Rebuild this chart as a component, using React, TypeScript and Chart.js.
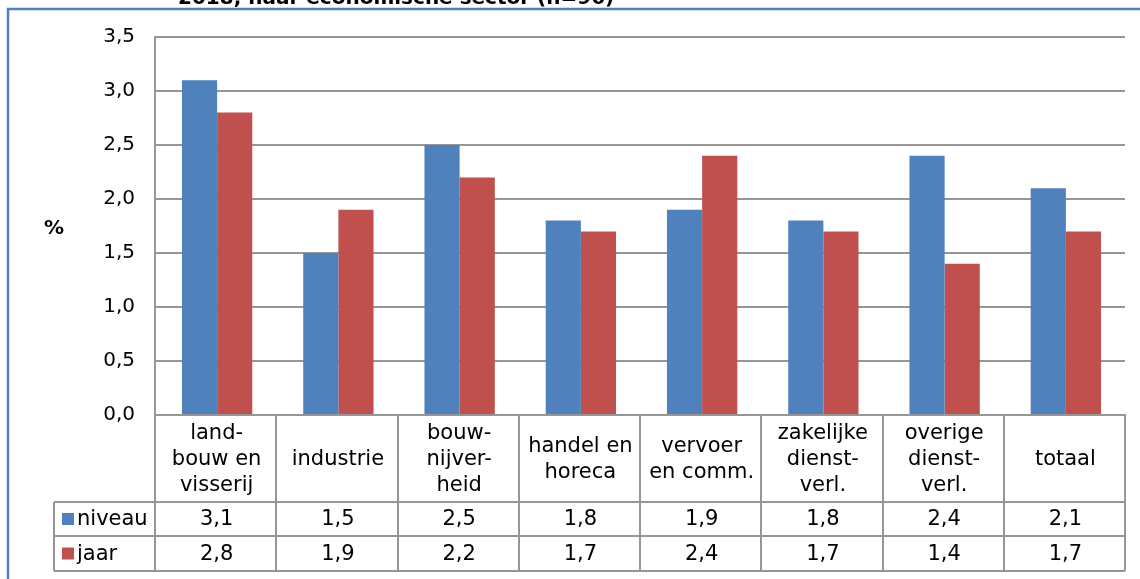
import React, { useEffect, useRef } from "react";
import { Chart, registerables } from "chart.js";

Chart.register(...registerables);

const titleText = "2018, naar economische sector (n=96)";
const categories: string[][] = [
  ["land-", "bouw en", "visserij"],
  ["industrie"],
  ["bouw-", "nijver-", "heid"],
  ["handel en", "horeca"],
  ["vervoer", "en comm."],
  ["zakelijke", "dienst-", "verl."],
  ["overige", "dienst-", "verl."],
  ["totaal"],
];
const seriesNames = ["niveau", "jaar"];
const niveau = [3.1, 1.5, 2.5, 1.8, 1.9, 1.8, 2.4, 2.1];
const jaar = [2.8, 1.9, 2.2, 1.7, 2.4, 1.7, 1.4, 1.7];
const colors = ["#4F81BD", "#C0504D"];
const yTicks = [0, 0.5, 1, 1.5, 2, 2.5, 3, 3.5];

const FONT = "DejaVu Sans, Verdana, sans-serif";
const GRID = "#969696";

const fmt = (v: number) => v.toFixed(1).replace(".", ",");

const tablePlugin = {
  id: "dataTable",
  afterDraw(chart: any) {
    const ctx = chart.ctx as CanvasRenderingContext2D;
    const area = chart.chartArea;
    const xs = chart.scales.x;
    const n = categories.length;
    const step = (area.right - area.left) / n;
    const top = area.bottom;
    const rowLabelBottom = top + 87;
    const row1Bottom = rowLabelBottom + 34;
    const row2Bottom = row1Bottom + 35;
    const legendLeft = 54;

    ctx.save();
    // frame border
    ctx.strokeStyle = "#4F81BD";
    ctx.lineWidth = 2.5;
    ctx.beginPath();
    ctx.moveTo(8, 579);
    ctx.lineTo(8, 9);
    ctx.lineTo(1141, 9);
    ctx.stroke();

    // title (cut off at top)
    ctx.fillStyle = "#000";
    ctx.font = `bold 20px ${FONT}`;
    ctx.textAlign = "left";
    ctx.textBaseline = "alphabetic";
    ctx.fillText(titleText, 178, 4);

    // % label
    ctx.font = `bold 20px ${FONT}`;
    ctx.textAlign = "center";
    ctx.textBaseline = "middle";
    ctx.fillText("%", 54, 229);

    // table lines
    ctx.strokeStyle = GRID;
    ctx.lineWidth = 2;
    ctx.beginPath();
    for (let i = 0; i <= n; i++) {
      const x = Math.round(area.left + i * step);
      ctx.moveTo(x, top);
      ctx.lineTo(x, row2Bottom);
    }
    ctx.moveTo(legendLeft, rowLabelBottom);
    ctx.lineTo(area.right, rowLabelBottom);
    ctx.moveTo(legendLeft, row1Bottom);
    ctx.lineTo(area.right, row1Bottom);
    ctx.moveTo(legendLeft, row2Bottom);
    ctx.lineTo(area.right, row2Bottom);
    ctx.moveTo(legendLeft, rowLabelBottom);
    ctx.lineTo(legendLeft, row2Bottom);
    ctx.stroke();

    // category labels
    ctx.fillStyle = "#000";
    ctx.font = `21px ${FONT}`;
    ctx.textAlign = "center";
    ctx.textBaseline = "middle";
    const lh = 26;
    const midCat = (top + rowLabelBottom) / 2 + 1;
    categories.forEach((lines, i) => {
      const cx = xs.getPixelForValue(i) + 1;
      const start = midCat - ((lines.length - 1) * lh) / 2;
      lines.forEach((ln, j) => ctx.fillText(ln, cx, start + j * lh));
    });

    // values
    const rows = [niveau, jaar];
    const rowMids = [(rowLabelBottom + row1Bottom) / 2 + 1, (row1Bottom + row2Bottom) / 2 + 1];
    rows.forEach((vals, r) => {
      vals.forEach((v, i) => {
        const cx = xs.getPixelForValue(i) + 1;
        ctx.fillText(fmt(v), cx, rowMids[r]);
      });
      // legend
      ctx.fillStyle = colors[r];
      ctx.fillRect(62, rowMids[r] - 7, 12, 12);
      ctx.fillStyle = "#000";
      ctx.textAlign = "left";
      ctx.fillText(seriesNames[r], 77, rowMids[r]);
      ctx.textAlign = "center";
    });
    ctx.restore();
  },
};

export default function App() {
  const ref = useRef<HTMLCanvasElement | null>(null);
  useEffect(() => {
    if (!ref.current) return;
    const chart = new Chart(ref.current, {
      type: "bar",
      data: {
        labels: categories.map((c) => c.join(" ")),
        datasets: [
          { label: seriesNames[0], data: niveau, backgroundColor: colors[0] },
          { label: seriesNames[1], data: jaar, backgroundColor: colors[1] },
        ],
      },
      options: {
        animation: false,
        responsive: false,
        layout: { padding: { top: 37, right: 15, left: 0, bottom: 0 } },
        datasets: { bar: { categoryPercentage: 0.58, barPercentage: 1 } },
        plugins: { legend: { display: false }, tooltip: { enabled: false }, title: { display: false } },
        scales: {
          x: {
            offset: true,
            grid: { display: false },
            border: { display: true, color: GRID, width: 2 },
            ticks: { display: false },
            afterFit: (s: any) => {
              s.height = 164;
            },
          },
          y: {
            min: 0,
            max: 3.5,
            afterBuildTicks: (s: any) => {
              s.ticks = yTicks.map((v) => ({ value: v }));
            },
            ticks: {
              callback: (v: any) => fmt(Number(v)),
              font: { family: FONT, size: 20 },
              color: "#000",
              padding: 20,
            },
            grid: { color: GRID, lineWidth: 2, drawTicks: false },
            border: { display: true, color: GRID, width: 2 },
            afterFit: (s: any) => {
              s.width = 155;
            },
          },
        },
      },
      plugins: [
        tablePlugin,
        {
          id: "shiftBars",
          beforeDatasetsDraw(chart: any) {
            chart.ctx.save();
            chart.ctx.translate(1.5, 0);
          },
          afterDatasetsDraw(chart: any) {
            chart.ctx.restore();
          },
        },
      ],
    });
    return () => chart.destroy();
  }, []);
  return (
    <div style={{ position: "absolute", left: 0, top: 0, width: 1140, height: 579, background: "#fff" }}>
      <canvas ref={ref} width={1140} height={579} />
    </div>
  );
}
